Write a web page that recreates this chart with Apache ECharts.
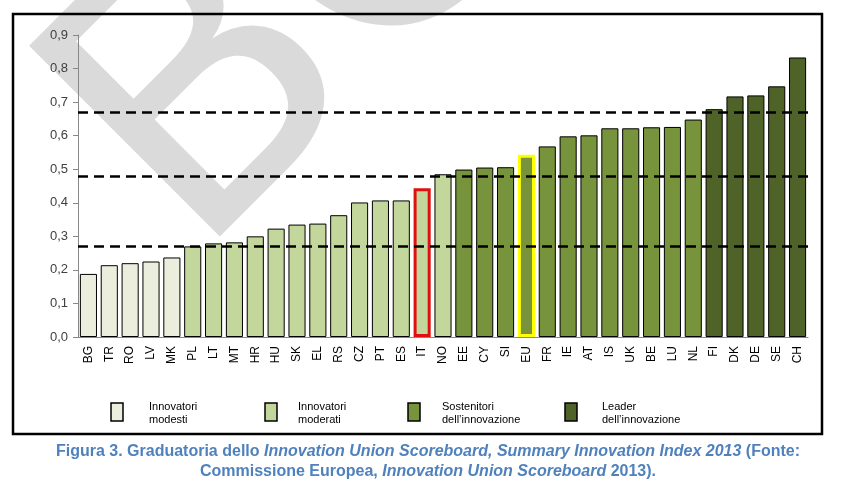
<!DOCTYPE html>
<html>
<head>
<meta charset="utf-8">
<script src="https://cdn.jsdelivr.net/npm/echarts@6/dist/echarts.min.js"></script>
<style>
  html, body { margin: 0; padding: 0; background: #fff; }
  #chart { width: 853px; height: 490px; }
</style>
</head>
<body>
<div id="chart"></div>
<script>
// paesi in ordine di punteggio
var countries = ['BG','TR','RO','LV','MK','PL','LT','MT','HR','HU','SK','EL','RS','CZ','PT','ES','IT','NO',
                 'EE','CY','SI','EU','FR','IE','AT','IS','UK','BE','LU','NL','FI','DK','DE','SE','CH'];
var scores = [0.188,0.214,0.220,0.225,0.237,0.270,0.279,0.282,0.300,0.323,0.335,0.338,0.363,0.401,0.407,0.407,0.443,0.485,
              0.499,0.505,0.506,0.543,0.568,0.598,0.601,0.622,0.622,0.625,0.626,0.648,0.679,0.717,0.720,0.747,0.833];
// gruppo di appartenenza (indice in groupNames)
var groups = [0,0,0,0,0,1,1,1,1,1,1,1,1,1,1,1,1,1,
              2,2,2,2,2,2,2,2,2,2,2,2,3,3,3,3,3];
var groupNames = [['Innovatori','modesti'],['Innovatori','moderati'],['Sostenitori','dell\u2019innovazione'],['Leader','dell\u2019innovazione']];
var groupColors = ['#ebeedd','#c3d69b','#77933c','#4f6228'];
// soglie tratteggiate
var thresholds = [0.272, 0.485, 0.668];
var yTicks = ['0,0','0,1','0,2','0,3','0,4','0,5','0,6','0,7','0,8','0,9'];

var dom = document.getElementById('chart');
var myChart = echarts.init(dom);

var barData = countries.map(function (c, i) {
    var item = {value: scores[i], itemStyle: {color: groupColors[groups[i]], borderColor: '#000', borderWidth: 1}};
    if (c == 'IT') { item.itemStyle.borderColor = '#e01010'; item.itemStyle.borderWidth = 3; }
    if (c == 'EU') { item.itemStyle.borderColor = '#ffff00'; item.itemStyle.borderWidth = 3; }
    return item;
});

var legendX = [111, 265, 408, 565];
var textX = [149, 298, 442, 602];
var graphics = [];
// filigrana
graphics.push({
    type: 'text', x: 257, y: 325, rotation: 45 * Math.PI / 180, z: -10, silent: true,
    style: {text: 'BOZZA', fill: '#dadada', font: '370px "DejaVu Sans"', align: 'left', verticalAlign: 'bottom'}
});
// cornice
graphics.push({type: 'rect', shape: {x: 13, y: 14, width: 809, height: 420}, z: 10,
    style: {fill: 'none', stroke: '#000', lineWidth: 2.5}});
groupNames.forEach(function (g, i) {
    graphics.push({type: 'rect', shape: {x: legendX[i], y: 403, width: 12, height: 18},
        style: {fill: groupColors[i], stroke: '#000', lineWidth: 1.5}});
    graphics.push({type: 'text', x: textX[i], y: 400,
        style: {text: g[0] + '\n' + g[1], fill: '#000', font: '11px "Liberation Sans"', lineHeight: 13}});
});
// didascalia
graphics.push({
    type: 'text', x: 428, y: 462,
    style: {
        text: '{n|Figura 3. Graduatoria dello }{i|Innovation Union Scoreboard, Summary Innovation Index 2013}{n| (Fonte:}\n' +
              '{n|Commissione Europea, }{i|Innovation Union Scoreboard}{n| 2013).}',
        align: 'center', verticalAlign: 'middle', fill: '#4f81bd',
        rich: {
            n: {fontFamily: 'Liberation Sans', fontWeight: 'bold', fontSize: 16, fill: '#4f81bd', lineHeight: 20},
            i: {fontFamily: 'Liberation Sans', fontWeight: 'bold', fontStyle: 'italic', fontSize: 16, fill: '#4f81bd', lineHeight: 20}
        }
    }
});

option = {
    animation: false,
    backgroundColor: '#fff',
    grid: {left: 78, right: 45, top: 35, bottom: 153},
    xAxis: {
        type: 'category',
        data: countries,
        axisLine: {lineStyle: {color: '#888', width: 1}},
        axisTick: {interval: 0, length: 5, lineStyle: {color: '#888'}},
        axisLabel: {interval: 0, rotate: 90, fontSize: 12, color: '#000', fontFamily: 'Liberation Sans', margin: 9}
    },
    yAxis: {
        type: 'value', min: 0, max: 0.9, interval: 0.1,
        axisLine: {show: true, lineStyle: {color: '#888', width: 1}},
        axisTick: {show: true, length: 5, lineStyle: {color: '#888'}},
        splitLine: {show: false},
        axisLabel: {
            fontSize: 13, color: '#404040', fontFamily: 'Liberation Sans', margin: 10,
            formatter: function (v) { return yTicks[Math.round(v * 10)]; }
        }
    },
    series: [{
        type: 'bar',
        data: barData,
        barCategoryGap: '18%',
        markLine: {
            silent: true, symbol: 'none', label: {show: false},
            lineStyle: {color: '#000', type: [10, 6], width: 2.5},
            data: thresholds.map(function (t) { return {yAxis: t}; })
        }
    }],
    graphic: graphics
};
if (option && typeof option === "object") {
    myChart.setOption(option, true);
}
</script>
</body>
</html>
